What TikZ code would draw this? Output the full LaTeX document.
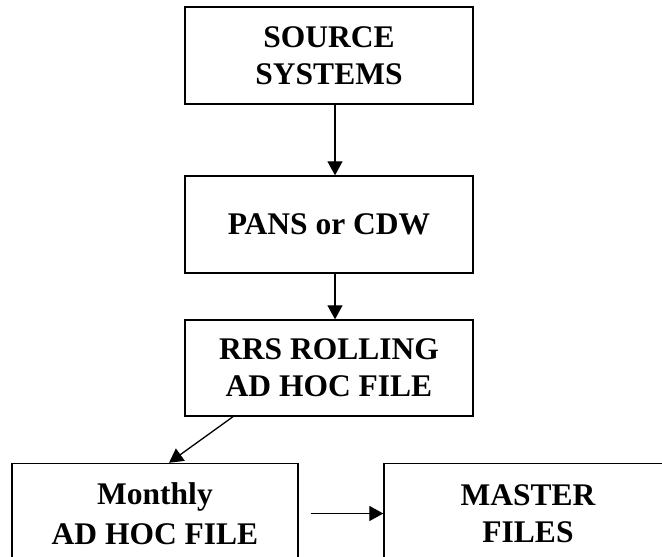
\documentclass[tikz,border=0pt]{standalone}
\usepackage{fontspec}
\setmainfont{Liberation Serif}
\usetikzlibrary{arrows.meta}
\begin{document}
\begin{tikzpicture}[x=1pt,y=-1pt,
  boxnode/.style={draw=black, line width=1.4pt, fill=white, align=center, inner sep=0pt,
    font=\fontsize{31.5}{37}\selectfont\bfseries},
  arr/.style={line width=1.3pt, -{Triangle[length=14pt,width=15pt]}}]
\useasboundingbox (0,0) rectangle (662,557);
\clip (0,0) rectangle (662,557);
\node[boxnode, minimum width=288pt, minimum height=97pt] (b1) at (329,55.5) {SOURCE\\SYSTEMS};
\node[boxnode, minimum width=288pt, minimum height=97pt] (b2) at (329,224.5) {PANS or CDW};
\node[boxnode, minimum width=288pt, minimum height=96pt] (b3) at (329,368) {RRS ROLLING\\AD HOC FILE};
\node[boxnode, minimum width=286pt, minimum height=100pt, font=\fontsize{31.5}{40}\selectfont\bfseries] (b4) at (155,513.5) {Monthly\\AD HOC FILE};
\node[boxnode, minimum width=288pt, minimum height=100pt] (b5) at (528,513.5) {MASTER\\FILES};
\draw[arr] ([xshift=6pt]b1.south) -- ([xshift=6pt]b2.north);
\draw[arr] ([xshift=6pt]b2.south) -- ([xshift=6pt]b3.north);
\draw[arr] ([xshift=-96pt]b3.south) -- ([xshift=14pt]b4.north);
\draw[arr] ([xshift=12pt]b4.east) -- (b5.west);
\end{tikzpicture}
\end{document}
